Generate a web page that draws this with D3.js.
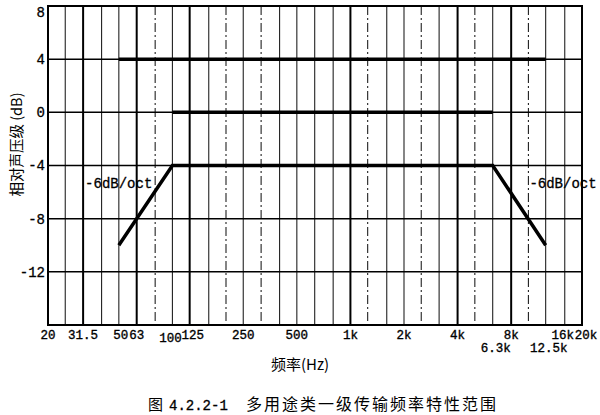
<!DOCTYPE html>
<html><head><meta charset="utf-8">
<script src="https://cdn.jsdelivr.net/npm/d3@7"></script>
<style>body{margin:0;background:#fff}</style>
</head><body><svg id="c" width="600" height="415"></svg>
<script>
// ---- data ----
const gridFreqs = [20,25,31.5,40,50,63,80,100,125,160,200,250,315,400,500,630,800,1000,1250,1600,2000,2500,3150,4000,5000,6300,8000,10000,12500,16000,20000];
const thickFreqs = [31.5,63,125,1000,4000,8000];
const dashFreqs = [80,200,315,1250,2500,5000,10000];
const yTicks = [8,4,0,-4,-8,-12];
const xTickValues = [20,31.5,50,63,100,125,250,500,1000,2000,4000,8000,16000,20000];
const xTickTexts  = ["20","31.5","50","63","100","125","250","500","1k","2k","4k","8k","16k","20k"];
const xTick2Values = [6300,12500];
const xTick2Texts  = ["6.3k","12.5k"];
const upperFreq = [50,12500],  upperDb = [4,4];
const middleFreq = [100,6300], middleDb = [0,0];
const lowerFreq = [50,100,6300,12500], lowerDb = [-10,-4,-4,-10];
const slopeLabel = "-6dB/oct";
const yTitle = "相对声压级 (dB)";
const xTitle = "频率(Hz)";
const captionFig = "图";
const captionNo = "4.2.2-1";
const captionText = "多用途类一级传输频率特性范围";

// ---- layout ----
const L=48,R=582,T=6,B=325;
const svg=d3.select("#c");
const x=d3.scaleLog().domain([20,20000]).range([L,R]);
const y=d3.scaleLinear().domain([-16,8]).range([B,T]);
const mono="'Liberation Mono', monospace";
const cjk="'Noto Sans CJK SC', sans-serif";

// vertical grid
svg.append("g").selectAll("line").data(gridFreqs.slice(1,-1)).join("line")
  .attr("x1",d=>x(d)).attr("x2",d=>x(d)).attr("y1",T).attr("y2",B)
  .attr("stroke",d=>thickFreqs.includes(d)?"#000":"#222")
  .attr("stroke-width",d=>thickFreqs.includes(d)?2:1.1)
  .attr("stroke-dasharray",d=>dashFreqs.includes(d)?"9,3,2,3":null);
// horizontal grid
svg.append("g").selectAll("line").data(yTicks.slice(1)).join("line")
  .attr("x1",L).attr("x2",R).attr("y1",d=>y(d)).attr("y2",d=>y(d))
  .attr("stroke","#000").attr("stroke-width",1.5);
// frame
svg.append("rect").attr("x",L).attr("y",T).attr("width",R-L).attr("height",B-T)
  .attr("fill","none").attr("stroke","#000").attr("stroke-width",2);

// series
const line=d3.line().x(d=>x(d[0])).y(d=>y(d[1]));
[[upperFreq,upperDb],[middleFreq,middleDb],[lowerFreq,lowerDb]].forEach(([f,v])=>{
  svg.append("path").datum(f.map((d,i)=>[d,v[i]])).attr("d",line)
    .attr("fill","none").attr("stroke","#000").attr("stroke-width",3.5)
    .attr("stroke-linejoin","miter");
});

// y tick labels
svg.append("g").selectAll("text").data(yTicks).join("text")
  .attr("x",L-3).attr("y",d=>Math.max(y(d),12)).attr("dy","0.35em")
  .attr("text-anchor","end").attr("font-family",mono).attr("font-size",14)
  .attr("stroke","#000").attr("stroke-width",0.3)
  .text(d=>d);

// x tick labels (adjacent pairs nudged apart as in the reference)
const nudge = {100:-2, 125:3, 50:2, 63:0, 16000:-2, 20000:4};
svg.append("g").selectAll("text").data(xTickValues).join("text")
  .attr("x",d=>x(d)+(nudge[d]||0)).attr("y",d=>d===100?342:339)
  .attr("text-anchor","middle").attr("font-family",mono).attr("font-size",12.5)
  .attr("stroke","#000").attr("stroke-width",0.35)
  .text((d,i)=>xTickTexts[i]);
svg.append("g").selectAll("text").data(xTick2Values).join("text")
  .attr("x",d=>x(d)+3).attr("y",352)
  .attr("text-anchor","middle").attr("font-family",mono).attr("font-size",12.5)
  .attr("stroke","#000").attr("stroke-width",0.35)
  .text((d,i)=>xTick2Texts[i]);

// slope labels
svg.append("text").attr("x",x(31.5)+2).attr("y",y(-5.3)).attr("dy","0.35em")
  .attr("font-family",mono).attr("font-size",14).attr("stroke","#000").attr("stroke-width",0.3)
  .text(slopeLabel);
svg.append("text").attr("x",x(10000)+1).attr("y",y(-5.3)).attr("dy","0.35em")
  .attr("font-family",mono).attr("font-size",14).attr("stroke","#000").attr("stroke-width",0.3)
  .text(slopeLabel);

// titles
svg.append("text").attr("transform",`translate(17,${(T+B)/2-21}) rotate(-90)`)
  .attr("text-anchor","middle").attr("dy","0.35em").attr("font-family",cjk).attr("font-size",14.5)
  .text(yTitle);
svg.append("text").attr("x",300).attr("y",365).attr("dy","0.35em")
  .attr("text-anchor","middle").attr("font-family",cjk).attr("font-size",15)
  .text(xTitle);
const cap = svg.append("text").attr("x",148).attr("y",404).attr("dy","0.35em");
cap.append("tspan").attr("font-family",cjk).attr("font-size",15).text(captionFig);
cap.append("tspan").attr("dx",6).attr("font-family",mono).attr("font-size",14)
  .attr("stroke","#000").attr("stroke-width",0.3).text(captionNo);
svg.append("text").attr("x",246).attr("y",404).attr("dy","0.35em")
  .attr("font-family",cjk).attr("font-size",16).attr("letter-spacing",2)
  .text(captionText);
</script></body></html>
